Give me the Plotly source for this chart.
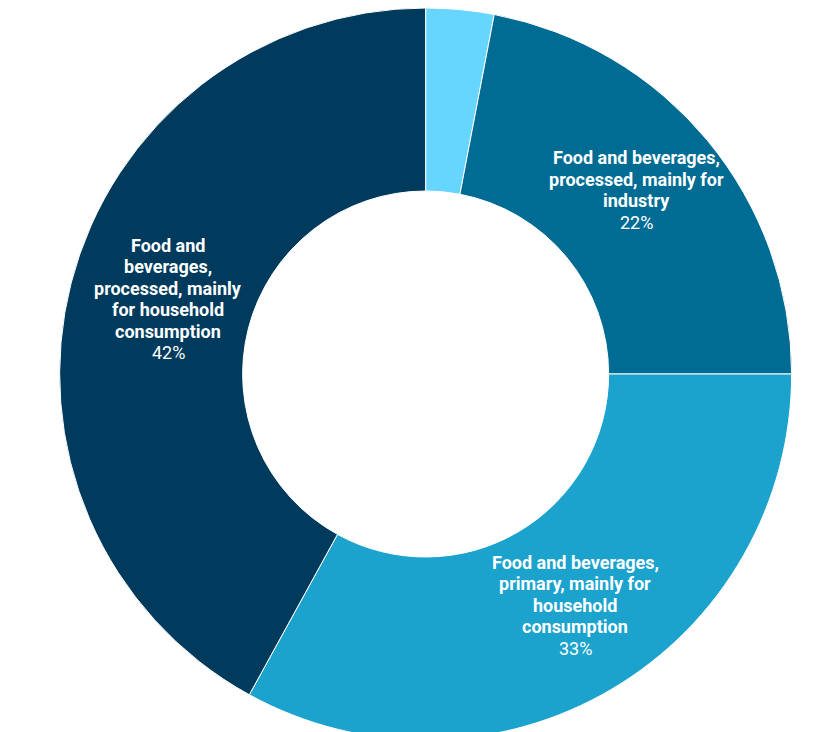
import plotly.graph_objects as go

# Share of food and beverages by category (%)
labels = [
    "Other",
    "Food and beverages, processed, mainly for industry",
    "Food and beverages, primary, mainly for household consumption",
    "Food and beverages, processed, mainly for household consumption",
]
values = [3, 22, 33, 42]
colours = ["#66D5FF", "#006C94", "#1BA3CE", "#003A5D"]

# how each label is wrapped inside its slice
label_lines = [
    [],
    ["Food and beverages,", "processed, mainly for", "industry"],
    ["Food and beverages,", "primary, mainly for", "household", "consumption"],
    ["Food and", "beverages,", "processed, mainly", "for household", "consumption"],
]
# label block centres (px)
label_pos = [None, (628, 182), (567, 597), (160, 291)]

W, H = 827, 732
LINE_H = 21.5

fig = go.Figure(
    go.Pie(
        labels=labels,
        values=values,
        textinfo="none",
        hole=0.5,
        sort=False,
        direction="clockwise",
        rotation=0,
        marker={"colors": colours, "line": {"color": "white", "width": 1}},
        domain={"x": [0.01, 1], "y": [0, 1]},
        showlegend=False,
    )
)

for lines, pos, v in zip(label_lines, label_pos, values):
    if not lines:
        continue
    rows = [f"<b>{t}</b>" for t in lines] + [f"{v}%"]
    n = len(rows)
    cx, cy = pos
    for i, row in enumerate(rows):
        py = cy + (i - (n - 1) / 2) * LINE_H
        fig.add_annotation(
            x=cx / W,
            y=1 - py / H,
            xref="paper",
            yref="paper",
            text=row,
            showarrow=False,
            xanchor="center",
            yanchor="middle",
            font={"family": "Roboto", "size": 18, "color": "white"},
        )

fig.update_layout(
    width=W,
    height=H,
    margin={"t": 0, "b": 0, "l": 0, "r": 0},
    paper_bgcolor="white",
)
fig.write_html("out.html")
